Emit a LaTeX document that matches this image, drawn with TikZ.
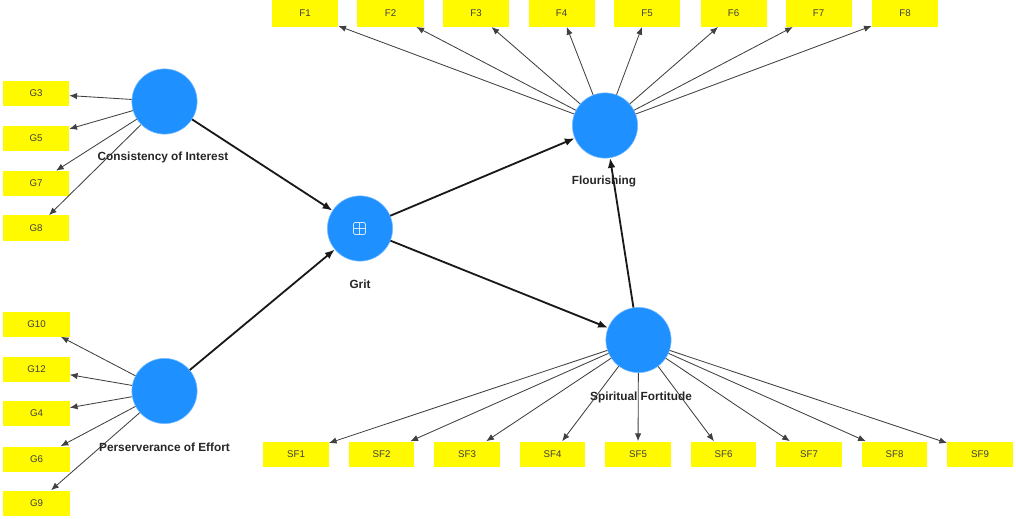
\documentclass[tikz,border=0pt]{standalone}
\usepackage{fontspec}
\setmainfont{Liberation Sans}
\usetikzlibrary{arrows.meta, positioning}

\definecolor{lvblue}{RGB}{30,144,255}
\definecolor{mvyellow}{RGB}{255,250,0}

\begin{document}
\begin{tikzpicture}[x=0.025cm, y=-0.025cm,
    lv/.style={circle, fill=lvblue, draw=lvblue!60!white, line width=0.4pt, minimum size=1.63cm, inner sep=0pt},
    mv/.style={fill=mvyellow, minimum width=1.65cm, minimum height=0.625cm, inner sep=0pt,
               font=\fontsize{6.9}{8}\selectfont, text=black!75},
    lvname/.style={font=\fontsize{8.4}{10}\selectfont\bfseries, text=black!85, inner sep=1pt},
    load/.style={-{Latex[length=5.5pt, width=4.5pt]}, draw=black!75, line width=0.6pt},
    inner/.style={-{Latex[length=7pt, width=5.5pt]}, draw=black!90, line width=1.3pt}]

  \useasboundingbox (0,0) rectangle (1016,518);

  % latent variables
  \node[lv] (cons) at (164.5,101.5) {};
  \node[lv] (pers) at (164.5,391) {};
  \node[lv] (grit) at (360,228.5) {};
  \node[lv] (flour) at (605,125.5) {};
  \node[lv] (spir) at (638.5,340) {};

  \draw[white!80!lvblue, line width=0.5pt, rounded corners=1pt] (353.5,222.5) rectangle (365.5,234.5);
  \draw[white!80!lvblue, line width=0.5pt] (359.5,222.5) -- (359.5,234.5);
  \draw[white!80!lvblue, line width=0.5pt] (353.5,228.5) -- (365.5,228.5);

  % indicators
  \foreach \n/\y in {G3/93.5, G5/138.5, G7/183.5, G8/228}{
    \node[mv] (\n) at (36,\y) {\n};
    \draw[load] (cons) -- (\n);
  }
  \foreach \n/\y in {G10/324, G12/369, G4/413.5, G6/459, G9/503}{
    \node[mv] (\n) at (36.5,\y) {\n};
    \draw[load] (pers) -- (\n);
  }
  \foreach \i/\x in {1/305, 2/390.5, 3/476, 4/561.5, 5/647, 6/733.5, 7/818.5, 8/905}{
    \node[mv, minimum height=0.66cm] (F\i) at (\x,13.5) {F\i};
    \draw[load] (flour) -- (F\i);
  }
  \foreach \i in {1,...,9}{
    \node[mv, minimum width=1.63cm] (SF\i) at ({210.5+85.5*\i},454) {SF\i};
    \draw[load] (spir) -- (SF\i);
  }

  % structural paths
  \draw[inner] (cons) -- (grit);
  \draw[inner] (pers) -- (grit);
  \draw[inner] (grit) -- (flour);
  \draw[inner] (grit) -- (spir);
  \draw[inner] (spir) -- (flour);

  \node[lvname] (consl) at (163,157) {Consistency of Interest};
  \node[lvname] (persl) at (164.5,447) {Perserverance of Effort};
  \node[lvname] (gritl) at (360,284) {Grit};
  \node[lvname] (flourl) at (604,181) {Flourishing};
  \node[lvname] (spirl) at (641,397) {Spiritual Fortitude};

\end{tikzpicture}
\end{document}
